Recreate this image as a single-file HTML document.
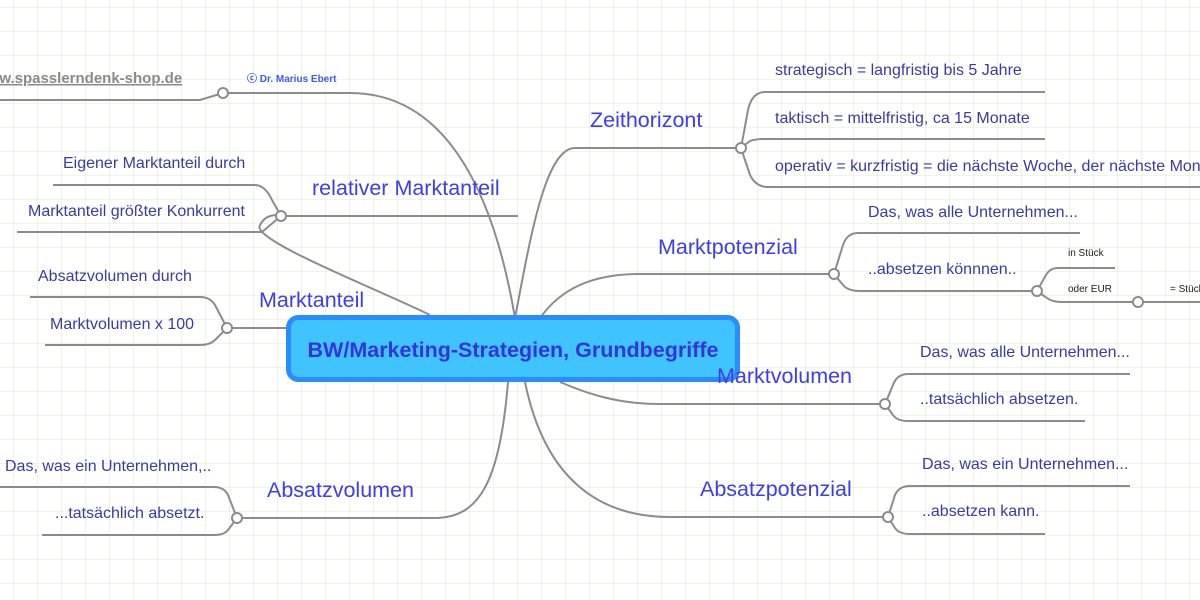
<!DOCTYPE html>
<html><head><meta charset="utf-8"><style>
html,body{margin:0;padding:0;width:1200px;height:600px;overflow:hidden;background:#fff}
svg{display:block}
text{font-family:"Liberation Sans",sans-serif}
.b{font-size:21.5px;fill:#3c3cf0}
.c{font-size:16px;fill:#3a3aa6}
.s{font-size:10px;fill:#222}
.l{fill:none;stroke:#8c8c8c;stroke-width:2}
.d{fill:#fff;stroke:#8c8c8c;stroke-width:2}
</style></head><body>
<svg width="1200" height="600" viewBox="0 0 1200 600" xmlns="http://www.w3.org/2000/svg">
<defs><pattern id="g" x="14" y="8" width="24" height="24" patternUnits="userSpaceOnUse"><path d="M24 0V24M0 24H24" fill="none" stroke="#dce8cc" stroke-width="1"/></pattern></defs>
<rect width="1200" height="600" fill="url(#g)"/>
<path class="l" d="M515 318 C495 200 450 93 350 93 L223 93"/>
<path class="l" d="M223 93 L200 100 L0 100"/>
<path class="l" d="M430 315 C380 290 250 240 260 225 C265 215 275 214 281 216 L518 216"/>
<path class="l" d="M281 216 L272 200 Q265 185 255 185 L53 185"/>
<path class="l" d="M281 216 L262 232 L17 232"/>
<path class="l" d="M290 328 L227 328"/>
<path class="l" d="M227 328 L215 305 Q210 297 200 297 L30 297"/>
<path class="l" d="M227 328 L215 340 Q210 345 200 345 L45 345"/>
<path class="l" d="M515 318 C530 240 545 148 575 148 L741 148"/>
<path class="l" d="M741 148 L748 110 Q752 92 765 92 L1045 92"/>
<path class="l" d="M741 148 L750 141 Q755 139 765 139 L1045 139"/>
<path class="l" d="M741 148 L750 175 Q756 187 768 187 L1200 187"/>
<path class="l" d="M540 318 C560 290 590 274 640 274 L834 274"/>
<path class="l" d="M834 274 L843 245 Q847 233 858 233 L1080 233"/>
<path class="l" d="M834 274 L843 285 Q848 291 860 291 L1037 291"/>
<path class="l" d="M1037 291 L1046 275 Q1050 268 1058 268 L1115 268"/>
<path class="l" d="M1037 291 L1047 298 Q1052 302 1062 302 L1200 302"/>
<path class="l" d="M560 382 C590 395 620 404 660 404 L885 404"/>
<path class="l" d="M885 404 L893 385 Q897 374 908 374 L1130 374"/>
<path class="l" d="M885 404 L893 415 Q897 421 908 421 L1085 421"/>
<path class="l" d="M525 382 C545 480 600 517 670 517 L888 517"/>
<path class="l" d="M888 517 L895 495 Q899 486 910 486 L1130 486"/>
<path class="l" d="M888 517 L895 528 Q899 534 910 534 L1045 534"/>
<path class="l" d="M508 382 C500 480 480 518 435 518 L237 518"/>
<path class="l" d="M237 518 L228 495 Q224 487 214 487 L0 487"/>
<path class="l" d="M237 518 L228 530 Q224 535 214 535 L42 535"/>
<circle class="d" cx="223" cy="93" r="5"/>
<circle class="d" cx="281" cy="216" r="5"/>
<circle class="d" cx="227" cy="328" r="5"/>
<circle class="d" cx="741" cy="148" r="5"/>
<circle class="d" cx="834" cy="274" r="5"/>
<circle class="d" cx="1037" cy="291" r="5"/>
<circle class="d" cx="1138" cy="302" r="5"/>
<circle class="d" cx="885" cy="404" r="5"/>
<circle class="d" cx="888" cy="517" r="5"/>
<circle class="d" cx="237" cy="518" r="5"/>
<rect x="288.5" y="317.5" width="449" height="62" rx="10" fill="#40c4ff" stroke="#2a8cff" stroke-width="5"/>
<text x="513" y="357" text-anchor="middle" style="font-size:21.5px;font-weight:bold;fill:#3434de">BW/Marketing-Strategien, Grundbegriffe</text>
<text x="-24" y="83" style="font-size:15px;font-weight:bold;fill:#8a8a8a;text-decoration:underline">www.spasslerndenk-shop.de</text>
<text x="247" y="82" style="font-size:10px;font-weight:bold;fill:#3c5cf0">ⓒ Dr. Marius Ebert</text>
<text class="b" x="312" y="195">relativer Marktanteil</text>
<text class="c" x="63" y="168">Eigener Marktanteil durch</text>
<text class="c" x="28" y="216">Marktanteil größter Konkurrent</text>
<text class="b" x="259" y="307">Marktanteil</text>
<text class="c" x="38" y="281">Absatzvolumen durch</text>
<text class="c" x="50" y="329">Marktvolumen x 100</text>
<text class="b" x="590" y="127">Zeithorizont</text>
<text class="c" x="775" y="75">strategisch = langfristig bis 5 Jahre</text>
<text class="c" x="775" y="123">taktisch = mittelfristig, ca 15 Monate</text>
<text class="c" x="775" y="171">operativ = kurzfristig = die nächste Woche, der nächste Monat</text>
<text class="b" x="658" y="254">Marktpotenzial</text>
<text class="c" x="868" y="217">Das, was alle Unternehmen...</text>
<text class="c" x="868" y="274">..absetzen könnnen..</text>
<text class="s" x="1068" y="256">in Stück</text>
<text class="s" x="1068" y="292">oder EUR</text>
<text class="s" x="1170" y="292">= Stück</text>
<text class="b" x="717" y="383">Marktvolumen</text>
<text class="c" x="920" y="357">Das, was alle Unternehmen...</text>
<text class="c" x="920" y="404">..tatsächlich absetzen.</text>
<text class="b" x="700" y="496">Absatzpotenzial</text>
<text class="c" x="922" y="469">Das, was ein Unternehmen...</text>
<text class="c" x="922" y="516">..absetzen kann.</text>
<text class="b" x="267" y="497">Absatzvolumen</text>
<text class="c" x="5" y="471">Das, was ein Unternehmen,..</text>
<text class="c" x="55" y="518">...tatsächlich absetzt.</text>
</svg>
</body></html>
